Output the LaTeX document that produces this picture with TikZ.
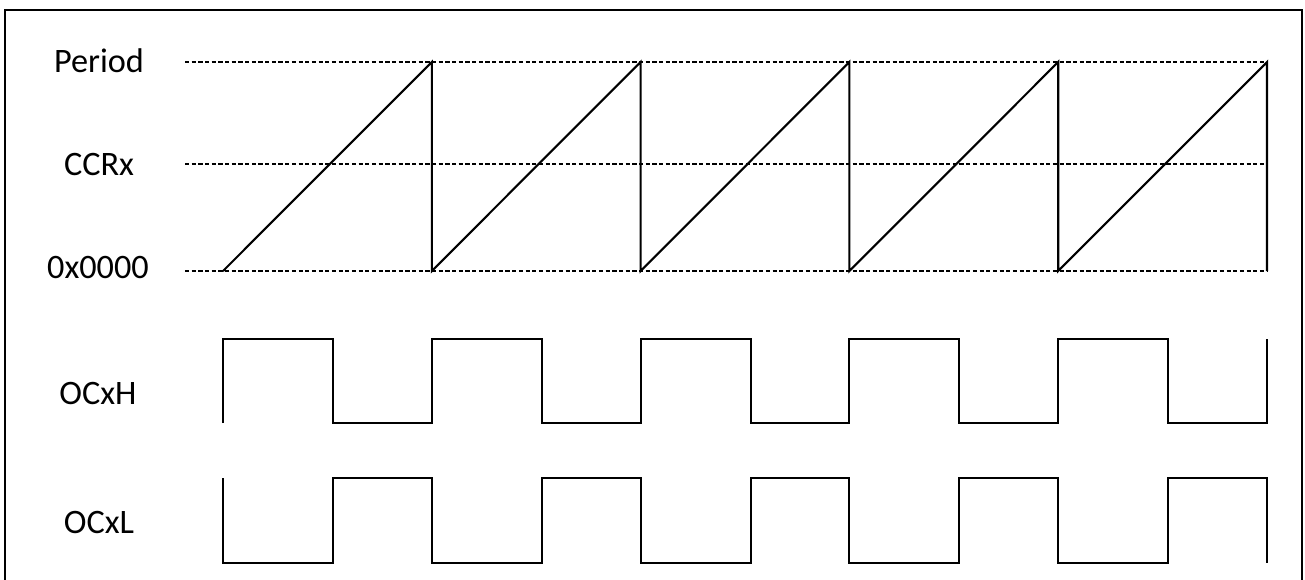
\documentclass[tikz,border=0pt]{standalone}
\usepackage{fontspec}
\setmainfont{Carlito}
\usepackage{tikz}
\usetikzlibrary{positioning}

\begin{document}
\begin{tikzpicture}[x=0.02cm, y=-0.02cm,
  lbl/.style={font=\fontsize{19.5}{23}\selectfont, inner sep=0pt},
  level/.style={line width=1.1pt, dash pattern=on 2.4pt off 1.4pt},
  wave/.style={line width=1.2pt, line join=miter},
  frame/.style={line width=1.2pt}]
% 1 unit = 1 px of the 1305x579 layout
\useasboundingbox (0,0) rectangle (1305,579);

% Outer frame (bottom edge falls outside)
\draw[frame] (5,600) -- (5,10) -- (1302,10) -- (1302,600);

% Counter levels
\node[lbl] (period) at (99,61) {Period};
\node[lbl] (ccrx) at (99,164) {CCRx};
\node[lbl] (zero) at (98,267) {0x0000};
\foreach \y in {62,164,271} {
  \draw[level] (185,\y) -- (1267,\y);
}

% Sawtooth counter: t0 = 223, period = 208.8
\draw[wave] (223,271)
  foreach \k in {0,...,4} { -- ({431.8+\k*208.8},62) -- ({431.8+\k*208.8},271) };

% Output channels
\node[lbl] (ocxh) at (98,393) {OCxH};
\node[lbl] (ocxl) at (99,522) {OCxL};

% OCxH: high while counter < CCRx
\draw[wave] (223,423)
  foreach \k in {0,...,4} {
    -- ({223+\k*208.8},339) -- ({333+\k*208.8},339)
    -- ({333+\k*208.8},423) -- ({431.8+\k*208.8},423)
  } -- (1267,339);

% OCxL: complementary
\draw[wave] (223,478)
  foreach \k in {0,...,4} {
    -- ({223+\k*208.8},563) -- ({333+\k*208.8},563)
    -- ({333+\k*208.8},478) -- ({431.8+\k*208.8},478)
  } -- (1267,563);
\end{tikzpicture}
\end{document}
